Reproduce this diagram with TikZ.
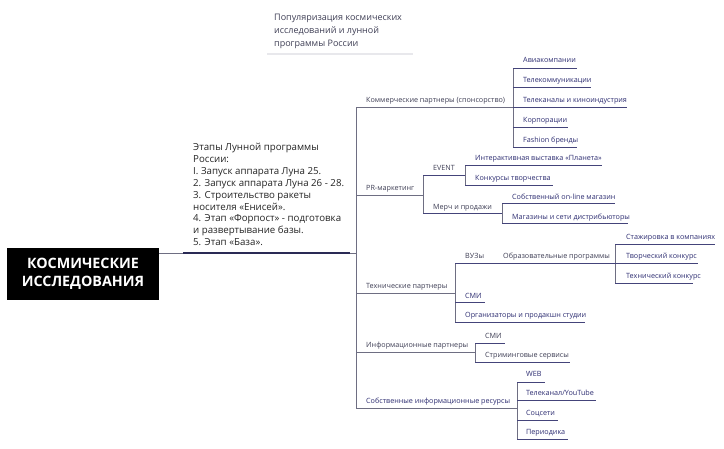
\documentclass[tikz,border=0pt]{standalone}
\usepackage{fontspec}
\setmainfont{Open Sans}
\definecolor{lvltext}{HTML}{3F3F55}
\definecolor{leaftext}{HTML}{2E2E72}
\definecolor{lineA}{HTML}{6E6E82}
\definecolor{lineB}{HTML}{44447A}
\definecolor{trunkc}{HTML}{2A2A55}
\definecolor{titleline}{HTML}{E8E8EC}
\begin{document}
\begin{tikzpicture}[x=1pt,y=-1pt,
  lvl/.style={anchor=mid west,inner sep=0pt,text=lvltext,font=\fontsize{7.2}{9}\selectfont},
  leaf/.style={anchor=mid west,inner sep=0pt,text=leaftext,font=\fontsize{7.2}{9}\selectfont},
  conA/.style={draw=lineA,line width=0.7pt},
  conB/.style={draw=lineB,line width=0.75pt},
  vbar/.style={draw=lineA,line width=0.7pt}]
\useasboundingbox (0,0) rectangle (724,448);
\fill[white] (0,0) rectangle (724,448);

% title
\node[anchor=north west,inner sep=0pt,align=left,text=lvltext,font=\fontsize{9}{13}\selectfont] (title) at (274,13.5)
  {Популяризация космических\\исследований и лунной\\программы России};
\coordinate (tl1) at (267,54); \coordinate (tl2) at (413,54);
\draw[titleline,line width=2.5pt] (tl1) -- (tl2);

% root
\node[fill=black,text=white,minimum width=152pt,minimum height=52pt,inner sep=0pt,align=center,
  font=\fontsize{14.3}{18}\selectfont\bfseries] (root) at (83,274) {КОСМИЧЕСКИЕ\\ИССЛЕДОВАНИЯ};

% lunar text
\node[anchor=north west,inner sep=0pt,align=left,text=black!85,font=\fontsize{9.7}{11.9}\selectfont] (luna) at (193,143)
  {Этапы Лунной программы\\России:\\I. Запуск аппарата Луна 25.\\2. Запуск аппарата Луна 26 - 28.\\3. Строительство ракеты\\носителя «Енисей».\\4. Этап «Форпост» - подготовка\\и развертывание базы.\\5. Этап «База».};

\coordinate (t0) at (159,253); \coordinate (t1) at (183,253); \coordinate (t2) at (350,253); \coordinate (t3) at (356,253);
\draw[conA] (t0) -- (t1);
\draw[draw=trunkc,line width=1.2pt] (t1) -- (t2);
\draw[conA] (t2) -- (t3);

% main vertical
\coordinate (mv1) at (356,107); \coordinate (mv2) at (356,408);
\draw[vbar] (mv1) -- (mv2);

% ---------- Commercial
\node[lvl] (kom) at (366,100) {Коммерческие партнеры (спонсорство)};
\coordinate (komv) at (513,107);
\draw[conA] (mv1) -- (komv);
\coordinate (kv1) at (513,68); \coordinate (kv2) at (513,147);
\draw[vbar] (kv1) -- (kv2);
\node[leaf] (k1) at (523,60) {Авиакомпании};
\node[leaf] (k2) at (523,80) {Телекоммуникации};
\node[leaf] (k3) at (523,100) {Телеканалы и киноиндустрия};
\node[leaf] (k4) at (523,120) {Корпорации};
\node[leaf] (k5) at (523,139.5) {Fashion бренды};
\coordinate (k1e) at (577,68); \coordinate (k2a) at (513,87); \coordinate (k2e) at (591,87);
\coordinate (k3e) at (627,107); \coordinate (k4a) at (513,127); \coordinate (k4e) at (568,127);
\coordinate (k5e) at (577,147);
\draw[conB] (kv1) -- (k1e);
\draw[conB] (k2a) -- (k2e);
\draw[conB] (komv) -- (k3e);
\draw[conB] (k4a) -- (k4e);
\draw[conB] (kv2) -- (k5e);

% ---------- PR
\node[lvl] (pr) at (366,187.5) {PR-маркетинг};
\coordinate (prl) at (356,195); \coordinate (prv) at (423,195);
\draw[conA] (prl) -- (prv);
\coordinate (pv1) at (423,175); \coordinate (pv2) at (423,213);
\draw[vbar] (pv1) -- (pv2);
\node[lvl] (ev) at (433,168) {EVENT};
\node[lvl] (merch) at (433,206.5) {Мерч и продажи};
\coordinate (evv) at (465,175); \coordinate (mev) at (502,213);
\draw[conB] (pv1) -- (evv);
\draw[conB] (pv2) -- (mev);
\coordinate (ev1) at (465,165); \coordinate (ev2) at (465,185);
\draw[vbar] (ev1) -- (ev2);
\node[leaf] (e1) at (475,157.5) {Интерактивная выставка «Планета»};
\node[leaf] (e2) at (475,177.5) {Конкурсы творчества};
\coordinate (e1e) at (602,165); \coordinate (e2e) at (553,185);
\draw[conB] (ev1) -- (e1e);
\draw[conB] (ev2) -- (e2e);
\coordinate (me1) at (502,203); \coordinate (me2) at (502,223);
\draw[vbar] (me1) -- (me2);
\node[leaf] (m1) at (512,196.5) {Собственный on-line магазин};
\node[leaf] (m2) at (512,216.5) {Магазины и сети дистрибьюторы};
\coordinate (m1e) at (615,203); \coordinate (m2e) at (628,223);
\draw[conB] (me1) -- (m1e);
\draw[conB] (me2) -- (m2e);

% ---------- Technical
\node[lvl] (tech) at (366,285.5) {Технические партнеры};
\coordinate (tel) at (356,293); \coordinate (tev) at (455,293);
\draw[conA] (tel) -- (tev);
\coordinate (tv1) at (455,263); \coordinate (tv2) at (455,322);
\draw[vbar] (tv1) -- (tv2);
\node[lvl] (vuz) at (465,256) {ВУЗы};
\node[lvl] (obr) at (503,256) {Образовательные программы};
\coordinate (obrv) at (615,263);
\draw[conB] (tv1) -- (obrv);
\coordinate (ov1) at (615,244); \coordinate (ov2) at (615,283);
\draw[vbar] (ov1) -- (ov2);
\node[leaf] (o1) at (626,237) {Стажировка в компаниях};
\node[leaf] (o2) at (626,256) {Творческий конкурс};
\node[leaf] (o3) at (626,276) {Технический конкурс};
\coordinate (o1e) at (715,244); \coordinate (o2e) at (698,263); \coordinate (o3e) at (693,283);
\draw[conB] (ov1) -- (o1e);
\draw[conB] (obrv) -- (o2e);
\draw[conB] (ov2) -- (o3e);
\node[leaf] (smi1) at (465,295.5) {СМИ};
\node[leaf] (org) at (465,315) {Организаторы и продакшн студии};
\coordinate (smia) at (455,302); \coordinate (smie) at (485,302); \coordinate (orge) at (585,322);
\draw[conB] (smia) -- (smie);
\draw[conB] (tv2) -- (orge);

% ---------- Info partners
\node[lvl] (info) at (366,345) {Информационные партнеры};
\coordinate (inl) at (356,352); \coordinate (inv) at (475,352);
\draw[conA] (inl) -- (inv);
\coordinate (iv1) at (475,343); \coordinate (iv2) at (475,362);
\draw[vbar] (iv1) -- (iv2);
\node[lvl] (i1) at (485,335.5) {СМИ};
\node[lvl] (i2) at (485,354.5) {Стриминговые сервисы};
\coordinate (i1e) at (505,343); \coordinate (i2e) at (570,362);
\draw[conB] (iv1) -- (i1e);
\draw[conB] (iv2) -- (i2e);

% ---------- Own resources
\node[leaf] (own) at (366,401) {Собственные информационные ресурсы};
\coordinate (owv) at (517,408);
\draw[conA] (mv2) -- (owv);
\coordinate (ow1) at (517,382); \coordinate (ow2) at (517,439);
\draw[vbar] (ow1) -- (ow2);
\node[leaf] (w1) at (526,374) {WEB};
\node[leaf] (w2) at (526,393) {Телеканал/YouTube};
\node[leaf] (w3) at (526,413) {Соцсети};
\node[leaf] (w4) at (526,432) {Периодика};
\coordinate (w1e) at (545,382); \coordinate (w2a) at (517,400); \coordinate (w2e) at (596,400);
\coordinate (w3a) at (517,420); \coordinate (w3e) at (558,420); \coordinate (w4e) at (568,439);
\draw[conB] (ow1) -- (w1e);
\draw[conB] (w2a) -- (w2e);
\draw[conB] (w3a) -- (w3e);
\draw[conB] (ow2) -- (w4e);
\end{tikzpicture}
\end{document}
